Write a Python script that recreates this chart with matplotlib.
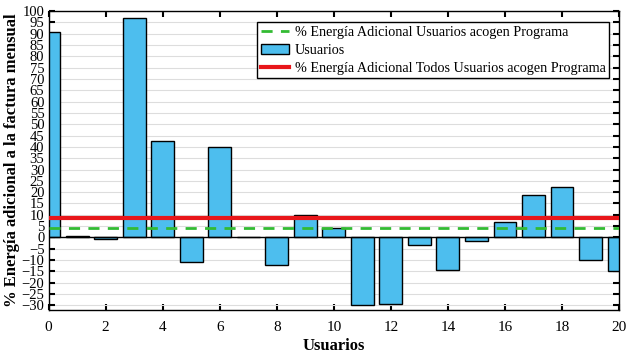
import numpy as np
import matplotlib.pyplot as plt

plt.rcParams['font.family'] = ['Liberation Serif', 'DejaVu Serif']

usuarios = list(range(21))
energia = [90.7, 0.8, -0.5, 96.9, 42.7, -11.0, 40.1, 0.1, -12.3, 10.1, 4.0,
           -30.0, -29.5, -3.5, -14.5, -1.6, 7.0, 18.9, 22.5, -10.0, -15.0]
prom_acogen = 4.0
prom_todos = 8.4

fig = plt.figure(figsize=(6.31, 3.55), dpi=100)
ax = fig.add_axes([0.077, 0.127, 0.904, 0.842])

ax.bar(usuarios, energia, width=0.8, color='#4DBEEE', edgecolor='black',
       linewidth=1, label='Usuarios', zorder=2)
ax.axhline(0, color='black', linewidth=1, zorder=2.5)
l1, = ax.plot([0, 20], [prom_acogen, prom_acogen], '--', color='#33bb33',
              linewidth=2, dashes=(4, 3), label='% Energía Adicional Usuarios acogen Programa', zorder=3)
l2, = ax.plot([0, 20], [prom_todos, prom_todos], '-', color='#e8161a',
              linewidth=3, label='% Energía Adicional Todos Usuarios acogen Programa', zorder=3)

ax.set_xlim(0, 20)
ax.set_ylim(-32, 100)
ax.set_xticks(np.arange(0, 21, 2))
ax.set_yticks(np.arange(-30, 101, 5))
ax.yaxis.grid(True, color='#dddddd', linewidth=0.8, zorder=0)
ax.set_axisbelow(True)
ax.tick_params(direction='in', top=True, right=True, length=4, width=1.5, labelsize=11)
ax.tick_params(axis='x', pad=8)
ax.tick_params(axis='y', pad=3, labelsize=10.5)
for s in ax.spines.values():
    s.set_linewidth(1)

ax.set_xlabel('Usuarios', fontsize=12, fontweight='bold', labelpad=3)
ax.set_ylabel('% Energía adicional a la factura mensual', fontsize=12, fontweight='bold', labelpad=1)

handles, labels = ax.get_legend_handles_labels()
order = [labels.index('% Energía Adicional Usuarios acogen Programa'),
         labels.index('Usuarios'),
         labels.index('% Energía Adicional Todos Usuarios acogen Programa')]
leg = ax.legend([handles[i] for i in order], [labels[i] for i in order],
                loc='upper right', bbox_to_anchor=(0.9825, 0.963), fontsize=10.2,
                frameon=True, fancybox=False, edgecolor='black', framealpha=1,
                borderpad=0.25, labelspacing=0.35, handlelength=2.0, handletextpad=0.4,
                borderaxespad=0)
leg.get_frame().set_linewidth(1)

fig.savefig('out.png', dpi=100)
